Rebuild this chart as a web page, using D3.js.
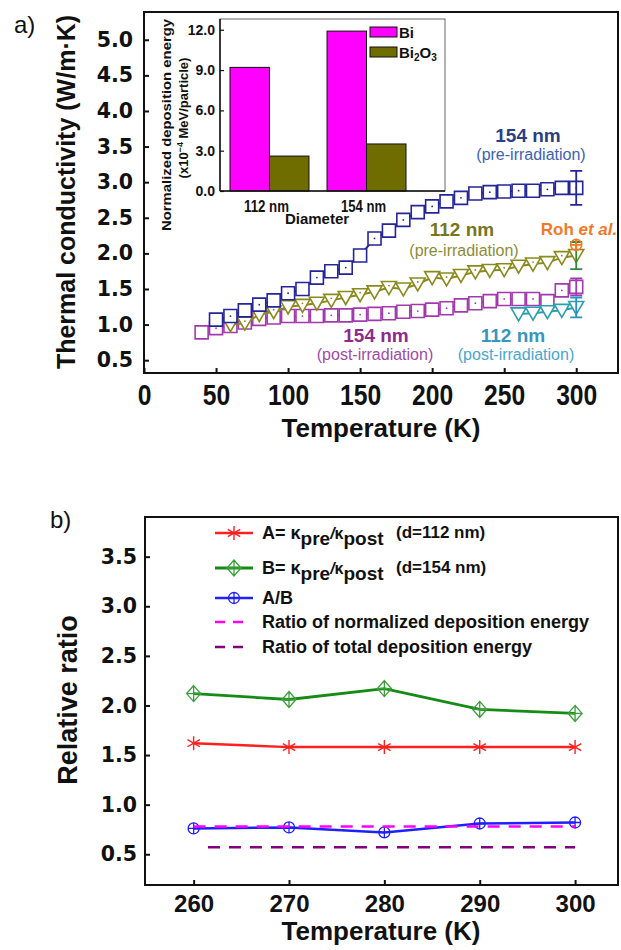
<!DOCTYPE html>
<html>
<head>
<meta charset="utf-8">
<script src="https://cdn.jsdelivr.net/npm/d3@7"></script>
<style>
  body { margin: 0; background: #fff; }
  svg { display: block; font-family: 'Liberation Sans', Arial, sans-serif; }
</style>
</head>
<body>
<script>
// ---------- panel a) inset : deposition energy ----------
const diameters = ['112 nm', '154 nm']
const depositBi = [9.2, 11.9]
const depositBi2O3 = [2.6, 3.5]
const depTicks = [0, 3, 6, 9, 12]

// ---------- panel a) thermal conductivity (W/m.K) ----------
const tPre154 = [50, 60, 70, 80, 90, 100, 110, 120, 130, 140, 150, 160, 170, 180, 190, 200, 210, 220, 230, 240, 250, 260, 270, 280, 290, 300]
const kPre154 = [1.07, 1.12, 1.20, 1.28, 1.34, 1.44, 1.50, 1.66, 1.75, 1.80, 1.97, 2.21, 2.32, 2.47, 2.58, 2.66, 2.73, 2.78, 2.84, 2.86, 2.87, 2.88, 2.88, 2.90, 2.92, 2.92]

const tPost154 = [40, 50, 60, 70, 80, 90, 100, 110, 120, 130, 140, 150, 160, 170, 180, 190, 200, 210, 220, 230, 240, 250, 260, 270, 280, 290, 300]
const kPost154 = [0.89, 0.95, 0.98, 1.03, 1.08, 1.10, 1.12, 1.12, 1.12, 1.13, 1.13, 1.14, 1.15, 1.16, 1.18, 1.19, 1.21, 1.23, 1.27, 1.30, 1.33, 1.36, 1.36, 1.36, 1.33, 1.48, 1.53]

const tPre112 = [60, 70, 80, 90, 100, 110, 120, 130, 140, 150, 160, 170, 180, 190, 200, 210, 220, 230, 240, 250, 260, 270, 280, 290, 300]
const kPre112 = [1.00, 1.02, 1.14, 1.18, 1.25, 1.27, 1.30, 1.34, 1.38, 1.42, 1.46, 1.52, 1.50, 1.57, 1.66, 1.64, 1.69, 1.74, 1.76, 1.77, 1.82, 1.85, 1.87, 1.94, 1.97]

const tPost112 = [260, 270, 280, 290, 300]
const kPost112 = [1.15, 1.16, 1.18, 1.20, 1.24]

// error bars at 300 K: 154 pre, 154 post, 112 pre, 112 post
const errT = [300, 300, 300, 300]
const errK = [2.92, 1.53, 1.97, 1.24]
const errDK = [0.24, 0.12, 0.19, 0.14]

const rohT = [300]
const rohK = [2.12]

const tempTicksA = [0, 50, 100, 150, 200, 250, 300]
const condTicks = [0.5, 1.0, 1.5, 2.0, 2.5, 3.0, 3.5, 4.0, 4.5, 5.0]

// ---------- panel b) relative ratios ----------
const tRatio = [260, 270, 280, 290, 300]
const ratioA = [1.62, 1.58, 1.58, 1.58, 1.58]
const ratioB = [2.12, 2.06, 2.17, 1.96, 1.92]
const ratioAB = [0.76, 0.77, 0.72, 0.81, 0.82]
const normDepT = [260, 300]
const normDep = [0.78, 0.78]
const totalDepT = [261.5, 300]
const totalDep = [0.57, 0.57]

const tempTicksB = [260, 270, 280, 290, 300]
const ratioTicks = [0.5, 1.0, 1.5, 2.0, 2.5, 3.0, 3.5]

// ---------------------------------------------------------
const fontMain = "'Liberation Sans', Arial, sans-serif"
const fontWide = "'DejaVu Sans', sans-serif"

const svg = d3.select('body').append('svg').attr('width', 621).attr('height', 950)

// marker shapes
const shapes = {
  square: (cx, cy) => `M${cx - 6.5},${cy - 6.5}h13v13h-13Z`,
  triDown: (cx, cy) => `M${cx - 7.5},${cy - 6}h15L${cx},${cy + 7}Z`,
  star: (cx, cy) => `M${cx},${cy - 7}V${cy + 7}M${cx - 6.2},${cy - 3.6}L${cx + 6.2},${cy + 3.6}M${cx - 6.2},${cy + 3.6}L${cx + 6.2},${cy - 3.6}`,
  diamondCross: (cx, cy) => `M${cx},${cy - 8}L${cx + 7},${cy}L${cx},${cy + 8}L${cx - 7},${cy}ZM${cx},${cy - 8}V${cy + 8}M${cx - 7},${cy}H${cx + 7}`,
  circleCross: (cx, cy) => `M${cx - 5.5},${cy}a5.5,5.5 0 1,0 11,0a5.5,5.5 0 1,0 -11,0ZM${cx - 5.5},${cy}H${cx + 5.5}M${cx},${cy - 5.5}V${cy + 5.5}`
}

function drawLine (g, xs, ys, x, y, color, width, dash) {
  g.append('path')
    .datum(xs.map((t, i) => [t, ys[i]]))
    .attr('d', d3.line().x(d => x(d[0])).y(d => y(d[1])))
    .attr('fill', 'none')
    .attr('stroke', color)
    .attr('stroke-width', width)
    .attr('stroke-dasharray', dash || null)
}

function drawMarkers (g, xs, ys, x, y, shape, color, fill, width, dots) {
  const pts = xs.map((t, i) => [x(t), y(ys[i])])
  g.selectAll(null).data(pts).enter().append('path')
    .attr('d', d => shapes[shape](d[0], d[1]))
    .attr('fill', fill)
    .attr('stroke', color)
    .attr('stroke-width', width)
  if (dots) {
    g.selectAll(null).data(pts.filter((d, i) => i % 2 === 1)).enter().append('circle')
      .attr('cx', d => d[0]).attr('cy', d => d[1] - (shape === 'triDown' ? 2 : 0)).attr('r', 0.9)
      .attr('fill', color)
  }
}

function styleAxis (ax, font, size) {
  ax.select('.domain').remove()
  ax.selectAll('line').attr('stroke', '#111').attr('stroke-width', 2)
  ax.selectAll('text')
    .attr('font-family', font)
    .attr('font-size', size)
    .attr('font-weight', 'bold')
    .attr('fill', '#111')
}

// =================== panel a ===================
const pa = { left: 144, right: 618, top: 12, bottom: 373 }
const xA = d3.scaleLinear().domain([0, 329]).range([pa.left, pa.right])
const yA = d3.scaleLinear().domain([0.32, 5.39]).range([pa.bottom, pa.top])

const gA = svg.append('g')

const axAx = gA.append('g').attr('transform', `translate(0,${pa.bottom})`)
  .call(d3.axisBottom(xA).tickValues(tempTicksA).tickSize(-5).tickPadding(11).tickFormat(d3.format('d')))
styleAxis(axAx, fontMain, 29)
// tall, condensed tick digits as in the original
axAx.selectAll('text').attr('transform', 'scale(0.85,1)')

const axAy = gA.append('g').attr('transform', `translate(${pa.left},0)`)
  .call(d3.axisLeft(yA).tickValues(condTicks).tickSize(-5).tickPadding(11).tickFormat(d3.format('.1f')))
styleAxis(axAy, fontWide, 20.5)

gA.append('rect')
  .attr('x', pa.left).attr('y', pa.top)
  .attr('width', pa.right - pa.left).attr('height', pa.bottom - pa.top)
  .attr('fill', 'none').attr('stroke', '#111').attr('stroke-width', 2)

// data series
const cPost154 = '#a23aae'
const cPre112 = '#8a8a1c'
const cPre154 = '#25259a'
const cPost112 = '#2a9fae'

drawLine(gA, tPost154, kPost154, xA, yA, cPost154, 2)
drawMarkers(gA, tPost154, kPost154, xA, yA, 'square', cPost154, '#fff', 1.6, true)

drawLine(gA, tPre112, kPre112, xA, yA, cPre112, 2)
drawMarkers(gA, tPre112, kPre112, xA, yA, 'triDown', cPre112, '#fff', 1.6, true)

drawLine(gA, tPre154, kPre154, xA, yA, cPre154, 2)
drawMarkers(gA, tPre154, kPre154, xA, yA, 'square', cPre154, '#fff', 1.6, true)

drawLine(gA, tPost112, kPost112, xA, yA, cPost112, 2)
drawMarkers(gA, tPost112, kPost112, xA, yA, 'triDown', cPost112, '#fff', 1.6, false)

// error bars
const errColors = [cPre154, cPost154, '#2e8b3a', '#2a8fc8']
errT.forEach((t, i) => {
  const x = xA(t)
  const y0 = yA(errK[i] - errDK[i])
  const y1 = yA(errK[i] + errDK[i])
  gA.append('path')
    .attr('d', `M${x},${y0}V${y1}M${x - 6},${y0}H${x + 6}M${x - 6},${y1}H${x + 6}`)
    .attr('fill', 'none').attr('stroke', errColors[i]).attr('stroke-width', 1.8)
})

// Roh et al. reference point
drawMarkers(gA, rohT, rohK, xA, yA, 'circleCross', '#f07a28', 'none', 1.6, false)

// annotations
function label (g, x, y, txt, color, size, weight) {
  return g.append('text')
    .attr('x', x).attr('y', y)
    .attr('text-anchor', 'middle')
    .attr('font-size', size)
    .attr('font-weight', weight || 'normal')
    .attr('fill', color)
    .text(txt)
}

label(gA, 528, 142, '154 nm', '#2a3f86', 19, 'bold')
label(gA, 531, 160, '(pre-irradiation)', '#3b63ad', 16)
label(gA, 462, 236, '112 nm', '#76761e', 19, 'bold')
label(gA, 464, 256, '(pre-irradiation)', '#8c8c3a', 16)
label(gA, 376, 342, '154 nm', '#8e2a8e', 19, 'bold')
label(gA, 375, 360, '(post-irradiation)', '#a04aa8', 16)
label(gA, 513, 342, '112 nm', '#3a95bd', 19, 'bold')
label(gA, 516, 360, '(post-irradiation)', '#4aa6cc', 16)

const roh = gA.append('text')
  .attr('x', 579).attr('y', 235)
  .attr('text-anchor', 'middle')
  .attr('font-size', 17).attr('font-weight', 'bold')
  .attr('fill', '#f07a28')
roh.append('tspan').text('Roh ')
roh.append('tspan').attr('font-style', 'italic').text('et al.')

// axis titles
gA.append('text')
  .attr('transform', 'translate(75,192) rotate(-90)')
  .attr('text-anchor', 'middle')
  .attr('font-size', 25).attr('font-weight', 'bold').attr('fill', '#111')
  .text('Thermal conductivity (W/m\u00b7K)')

gA.append('text')
  .attr('x', 381).attr('y', 437)
  .attr('text-anchor', 'middle')
  .attr('font-size', 26).attr('font-weight', 'bold').attr('fill', '#111')
  .text('Temperature (K)')

svg.append('text').attr('x', 14).attr('y', 33)
  .attr('font-size', 24).attr('fill', '#111').text('a)')

// ---------- inset bar chart ----------
const ins = { left: 220, right: 445, top: 19, bottom: 191 }
const gI = svg.append('g')

gI.append('rect')
  .attr('x', ins.left).attr('y', ins.top)
  .attr('width', ins.right - ins.left).attr('height', ins.bottom - ins.top)
  .attr('fill', '#fff').attr('stroke', '#666').attr('stroke-width', 1)

const x0 = d3.scaleBand().domain(diameters).range([230, 406]).paddingInner(0.186)
const x1 = d3.scaleBand().domain(['Bi', 'Bi2O3']).range([0, x0.bandwidth()])
const yI = d3.scaleLinear().domain([0, 12.8]).range([ins.bottom, ins.top])
const barColors = { Bi: '#ff00ff', Bi2O3: '#6f6c00' }

diameters.forEach((d, i) => {
  const vals = [['Bi', depositBi[i]], ['Bi2O3', depositBi2O3[i]]]
  gI.selectAll(null).data(vals).enter().append('rect')
    .attr('x', v => x0(d) + x1(v[0]))
    .attr('y', v => yI(v[1]))
    .attr('width', x1.bandwidth())
    .attr('height', v => yI(0) - yI(v[1]))
    .attr('fill', v => barColors[v[0]])
    .attr('stroke', '#111').attr('stroke-width', 1)
})

const axIy = gI.append('g').attr('transform', `translate(${ins.left},0)`)
  .call(d3.axisLeft(yI).tickValues(depTicks).tickSize(-4).tickPadding(5).tickFormat(d3.format('.1f')))
styleAxis(axIy, fontMain, 14)
axIy.selectAll('line').attr('stroke-width', 1.2)

gI.append('line')
  .attr('x1', ins.left).attr('x2', ins.left).attr('y1', ins.top).attr('y2', ins.bottom)
  .attr('stroke', '#111').attr('stroke-width', 1.5)
gI.append('line')
  .attr('x1', ins.left).attr('x2', ins.right).attr('y1', ins.bottom).attr('y2', ins.bottom)
  .attr('stroke', '#111').attr('stroke-width', 1.5)

diameters.forEach(d => {
  label(gI, x0(d) + x0.bandwidth() / 2 - 3, 212, d, '#111', 16, 'bold')
    .attr('textLength', 45).attr('lengthAdjust', 'spacingAndGlyphs')
})
label(gI, 317, 224, 'Diameter', '#111', 15, 'bold')

gI.append('text')
  .attr('transform', 'translate(171,125) rotate(-90)')
  .attr('text-anchor', 'middle')
  .attr('font-size', 13).attr('font-weight', 'bold').attr('fill', '#111')
  .attr('textLength', 212).attr('lengthAdjust', 'spacingAndGlyphs')
  .text('Normalized deposition energy')

const unit = gI.append('text')
  .attr('transform', 'translate(188,118) rotate(-90)')
  .attr('text-anchor', 'middle')
  .attr('font-size', 13).attr('font-weight', 'bold').attr('fill', '#111')
unit.append('tspan').text('(x10')
unit.append('tspan').attr('font-size', 9).attr('dy', -5).text('\u22124')
unit.append('tspan').attr('dy', 5).text(' MeV/particle)')

// inset legend
gI.append('rect').attr('x', 370).attr('y', 27).attr('width', 27).attr('height', 10)
  .attr('fill', barColors.Bi).attr('stroke', '#111').attr('stroke-width', 1)
gI.append('rect').attr('x', 370).attr('y', 47).attr('width', 27).attr('height', 10)
  .attr('fill', barColors.Bi2O3).attr('stroke', '#111').attr('stroke-width', 1)
gI.append('text').attr('x', 399).attr('y', 38)
  .attr('font-size', 15).attr('font-weight', 'bold').attr('fill', '#111').text('Bi')
const biox = gI.append('text').attr('x', 399).attr('y', 58)
  .attr('font-size', 15).attr('font-weight', 'bold').attr('fill', '#111')
biox.append('tspan').text('Bi')
biox.append('tspan').attr('font-size', 10).attr('dy', 3).text('2')
biox.append('tspan').attr('dy', -3).text('O')
biox.append('tspan').attr('font-size', 10).attr('dy', 3).text('3')

// =================== panel b ===================
const pb = { left: 145, right: 618, top: 517, bottom: 885 }
const xB = d3.scaleLinear().domain([254.9, 304.5]).range([pb.left, pb.right])
const yB = d3.scaleLinear().domain([0.19, 3.9]).range([pb.bottom, pb.top])

const gB = svg.append('g')

const axBx = gB.append('g').attr('transform', `translate(0,${pb.bottom})`)
  .call(d3.axisBottom(xB).tickValues(tempTicksB).tickSize(-5).tickPadding(10).tickFormat(d3.format('d')))
styleAxis(axBx, fontMain, 24)

const axBy = gB.append('g').attr('transform', `translate(${pb.left},0)`)
  .call(d3.axisLeft(yB).tickValues(ratioTicks).tickSize(-5).tickPadding(8).tickFormat(d3.format('.1f')))
styleAxis(axBy, fontWide, 20.5)

gB.append('rect')
  .attr('x', pb.left).attr('y', pb.top)
  .attr('width', pb.right - pb.left).attr('height', pb.bottom - pb.top)
  .attr('fill', 'none').attr('stroke', '#111').attr('stroke-width', 2)

const cA = '#ff2020'
const cB = '#158a15'
const cBm = '#3a9f3a'
const cAB = '#2020ff'
const cNorm = '#ff00ff'
const cTotal = '#800080'

drawLine(gB, totalDepT, totalDep, xB, yB, cTotal, 2.5, '12,9')
drawLine(gB, tRatio, ratioB, xB, yB, cB, 2.8)
drawMarkers(gB, tRatio, ratioB, xB, yB, 'diamondCross', cBm, 'none', 1.3, false)
drawLine(gB, tRatio, ratioA, xB, yB, cA, 2.5)
drawMarkers(gB, tRatio, ratioA, xB, yB, 'star', cA, 'none', 1.4, false)
drawLine(gB, tRatio, ratioAB, xB, yB, cAB, 2.5)
drawMarkers(gB, tRatio, ratioAB, xB, yB, 'circleCross', cAB, 'none', 1.3, false)
drawLine(gB, normDepT, normDep, xB, yB, cNorm, 2.5, '12,9')

// legend
const legRows = [533, 568, 598, 622, 647]
const lg = gB.append('g')
function legLine (y, color, dash, w) {
  lg.append('line').attr('x1', 215).attr('x2', dash ? 244 : 253).attr('y1', y).attr('y2', y)
    .attr('stroke', color).attr('stroke-width', w).attr('stroke-dasharray', dash || null)
}
legLine(legRows[0], cA, null, 2.5)
lg.append('path').attr('d', shapes.star(234, legRows[0])).attr('fill', 'none').attr('stroke', cA).attr('stroke-width', 1.4)
legLine(legRows[1], cB, null, 2.8)
lg.append('path').attr('d', shapes.diamondCross(234, legRows[1])).attr('fill', 'none').attr('stroke', cBm).attr('stroke-width', 1.3)
legLine(legRows[2], cAB, null, 2.5)
lg.append('path').attr('d', shapes.circleCross(234, legRows[2])).attr('fill', 'none').attr('stroke', cAB).attr('stroke-width', 1.3)
legLine(legRows[3], cNorm, '10,8', 2.5)
legLine(legRows[4], cTotal, '10,8', 2.5)

function kappaLabel (y, lead, d) {
  const t = lg.append('text').attr('x', 262).attr('y', y + 6)
    .attr('font-size', 18).attr('font-weight', 'bold').attr('fill', '#111')
  t.append('tspan').text(lead + '\u03ba')
  t.append('tspan').attr('dy', 6).attr('font-size', 19).text('pre')
  t.append('tspan').attr('dy', -6).attr('font-size', 16).attr('font-style', 'italic').text('/')
  t.append('tspan').attr('font-size', 16).text('\u03ba')
  t.append('tspan').attr('dy', 6).attr('font-size', 19).text('post')
  lg.append('text').attr('x', 396).attr('y', y + 5)
    .attr('font-size', 17).attr('font-weight', 'bold').attr('fill', '#111')
    .text(d)
}
kappaLabel(legRows[0], 'A= ', '(d=112 nm)')
kappaLabel(legRows[1], 'B= ', '(d=154 nm)')

const legPlain = [[legRows[2], 'A/B'], [legRows[3], 'Ratio of normalized deposition energy'], [legRows[4], 'Ratio of total deposition energy']]
legPlain.forEach(r => {
  lg.append('text').attr('x', 262).attr('y', r[0] + 6)
    .attr('font-size', 18).attr('font-weight', 'bold').attr('fill', '#111')
    .text(r[1])
})

gB.append('text')
  .attr('transform', 'translate(77,700) rotate(-90)')
  .attr('text-anchor', 'middle')
  .attr('font-size', 27).attr('font-weight', 'bold').attr('fill', '#111')
  .text('Relative ratio')

gB.append('text')
  .attr('x', 381).attr('y', 940)
  .attr('text-anchor', 'middle')
  .attr('font-size', 26).attr('font-weight', 'bold').attr('fill', '#111')
  .text('Temperature (K)')

svg.append('text').attr('x', 50).attr('y', 528)
  .attr('font-size', 24).attr('fill', '#111').text('b)')
</script>
</body>
</html>
